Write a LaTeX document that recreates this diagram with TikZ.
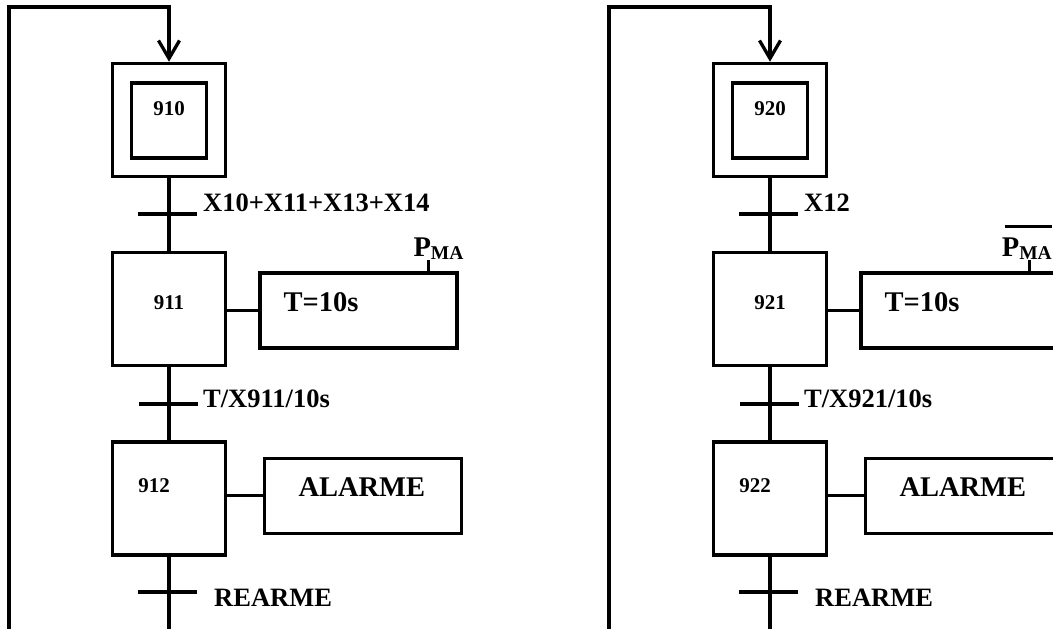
\documentclass[tikz,border=0pt]{standalone}
\usepackage{fontspec}
\setmainfont{Liberation Serif}
\usetikzlibrary{arrows.meta}
\newcommand\Shift{601}
\tikzset{
  etape/.style={
    shape = rectangle,
    draw,
    line width = 3.5pt,
    minimum width = 113pt,
    minimum height = 113pt,
    inner sep = 0pt
  },
  init/.style={
    shape = rectangle,
    draw,
    line width = 3.5pt,
    minimum size = 75pt,
    inner sep = 0pt
  },
  action/.style={
    shape = rectangle,
    draw,
    line width = 3.5pt,
    minimum width = 197pt,
    minimum height = 75pt,
    inner sep = 0pt
  },
  lien/.style={line width = 3.3pt},
  barre/.style={line width = 3.5pt},
  num/.style={
    anchor = base,
    inner sep = 0pt,
    font = \fontsize{21}{21}\selectfont\bfseries
  },
  recept/.style={
    anchor = base west,
    inner sep = 0pt,
    font = \fontsize{26.5}{27}\selectfont\bfseries
  },
  ordre/.style={
    anchor = base west,
    inner sep = 0pt,
    font = \fontsize{28.5}{29}\selectfont\bfseries
  }
}
\newcommand{\sousMA}{\raisebox{-3pt}{\fontsize{19.5}{20}\selectfont MA}}

\begin{document}
\begin{tikzpicture}[x=1pt,y=-1pt]
    \useasboundingbox (0,0) rectangle (1053,629);
    \clip (0,0) rectangle (1053,629);

    % grafcet 910
    \node[etape] (s910) at (169,120) {};
    \node[init] (i910) at (169,120.5) {};
    \node[num] (n910) at (169,115) {910};
    \node[etape] (s911) at (169,309) {};
    \node[num] (n911) at (169,309.5) {911};
    \node[etape] (s912) at (169,498.5) {};
    \node[num] (n912) at (154,492.3) {912};

    \coordinate (t910) at (169,214);
    \coordinate (t911) at (169,404);
    \coordinate (t912) at (169,592);
    \coordinate (fin1) at (169,640);
    \coordinate (bas1) at (9,640);
    \coordinate (haut1) at (9,7);

    \draw[lien] (s910) -- (s911);
    \draw[lien] (s911) -- (s912);
    \draw[lien] (s912) -- (fin1);
    \draw[lien,-{Straight Barb[length=18pt,width=21pt]}] (bas1) -- (haut1) -| (s910.north);
    \draw[barre] ([xshift=-31pt]t910) -- ([xshift=28pt]t910);
    \draw[barre] ([xshift=-30pt]t911) -- ([xshift=29pt]t911);
    \draw[barre] ([xshift=-31pt]t912) -- ([xshift=28pt]t912);

    \node[recept] (c910) at (203,211.5) {X10+X11+X13+X14};
    \node[recept] (c911) at (203,407.5) {T/X911/10s};
    \node[recept] (c912) at (214,606.5) {REARME};

    \node[action] (a911) at (358.5,310.5) {};
    \node[ordre] (o911) at (283.3,311.7) {T=10s};
    \draw[lien] (a911.west -| s911.east) -- (a911.west);
    \coordinate (p911) at (428.5,260);
    \draw[lien] (p911) -- (p911 |- a911.north);
    \node[ordre] (pma1) at (413.3,256.7) {P\sousMA};

    \node[action] (a912) at (363,495.8) {};
    \node[ordre] (o912) at (298.3,496.7) {ALARME};
    \draw[lien] (a912.west -| s912.east) -- (a912.west);

    % grafcet 920
    \node[etape] (s920) at (169+\Shift,120) {};
    \node[init] (i920) at (169+\Shift,120.5) {};
    \node[num] (n920) at (169+\Shift,115) {920};
    \node[etape] (s921) at (169+\Shift,309) {};
    \node[num] (n921) at (169+\Shift,309.5) {921};
    \node[etape] (s922) at (169+\Shift,498.5) {};
    \node[num] (n922) at (154+\Shift,492.3) {922};

    \coordinate (t920) at (169+\Shift,214);
    \coordinate (t921) at (169+\Shift,404);
    \coordinate (t922) at (169+\Shift,592);
    \coordinate (fin2) at (169+\Shift,640);
    \coordinate (bas2) at (8+\Shift,640);
    \coordinate (haut2) at (8+\Shift,7);

    \draw[lien] (s920) -- (s921);
    \draw[lien] (s921) -- (s922);
    \draw[lien] (s922) -- (fin2);
    \draw[lien,-{Straight Barb[length=18pt,width=21pt]}] (bas2) -- (haut2) -| (s920.north);
    \draw[barre] ([xshift=-31pt]t920) -- ([xshift=28pt]t920);
    \draw[barre] ([xshift=-30pt]t921) -- ([xshift=29pt]t921);
    \draw[barre] ([xshift=-31pt]t922) -- ([xshift=28pt]t922);

    \node[recept] (c920) at (203+\Shift,211) {X12};
    \node[recept] (c921) at (203+\Shift,407.5) {T/X921/10s};
    \node[recept] (c922) at (214+\Shift,606.5) {REARME};

    \node[action] (a921) at (358.5+\Shift,310.5) {};
    \node[ordre] (o921) at (283.3+\Shift,311.7) {T=10s};
    \draw[lien] (a921.west -| s921.east) -- (a921.west);
    \coordinate (p921) at (428.5+\Shift,260);
    \draw[lien] (p921) -- (p921 |- a921.north);
    \node[ordre] (pma2) at (400.7+\Shift,256.7) {P\sousMA};
    \draw[barre] ([xshift=3pt,yshift=11.5pt]pma2.north west) -- ([yshift=11.5pt]pma2.north east);

    \node[action] (a922) at (363+\Shift,495.8) {};
    \node[ordre] (o922) at (298.3+\Shift,496.7) {ALARME};
    \draw[lien] (a922.west -| s922.east) -- (a922.west);
\end{tikzpicture}
\end{document}
